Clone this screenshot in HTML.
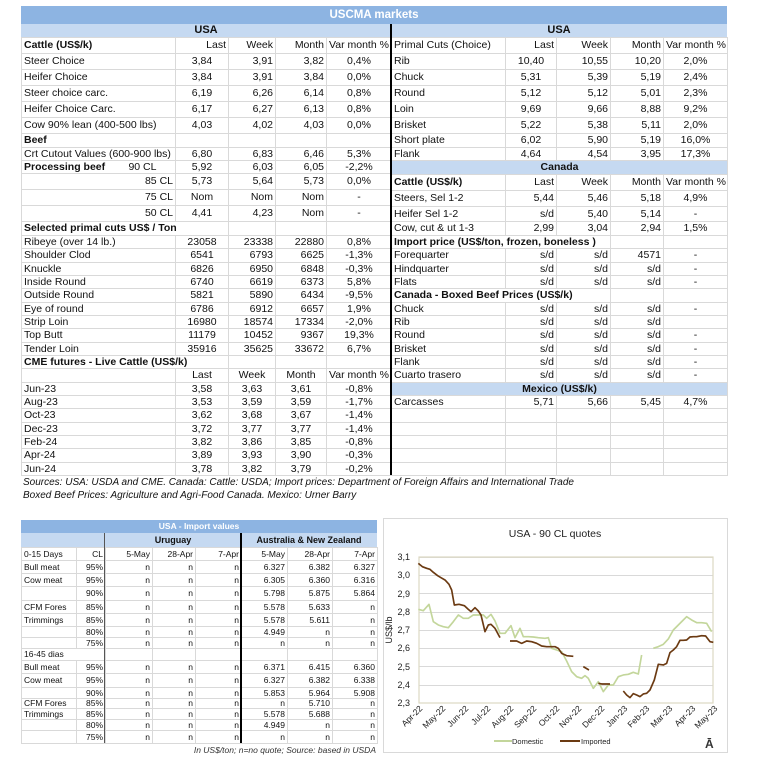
<!DOCTYPE html>
<html><head><meta charset="utf-8">
<style>
body{margin:0;width:768px;height:774px;background:#fff;position:relative;overflow:hidden;font-family:"Liberation Sans",Arial,sans-serif;color:#111}
.a{position:absolute}
table{border-collapse:collapse;table-layout:fixed;font-size:10.5px;position:absolute}
td{padding:0 2px;border:1px solid #d9d9d9;white-space:nowrap;overflow:hidden;line-height:1}
.c{text-align:center}.r{text-align:right}.b{font-weight:bold}
.band{background:#c5d9f1;font-weight:bold;text-align:center}
td.n{border-right:none}
.sm{font-size:8.5px}
.sm td{padding:0 2px}
</style></head><body>
<div class="a" style="left:21px;top:6px;width:706px;height:18px;background:#8db4e2;color:#fff;font-weight:bold;font-size:11.5px;text-align:center;line-height:18px">USCMA markets</div>
<div class="a" style="left:21px;top:24px;width:706px;height:13px;background:#c5d9f1"></div>
<div class="a b" style="left:21px;top:24px;width:370px;font-size:11px;text-align:center;line-height:13px">USA</div>
<div class="a b" style="left:391px;top:24px;width:336px;font-size:11px;text-align:center;line-height:13px">USA</div>

<table style="left:21px;top:37px;width:370px">
<colgroup><col style="width:154px"><col style="width:53px"><col style="width:47px"><col style="width:51px"><col style="width:65px"></colgroup>
<tr style="height:16px"><td class="b">Cattle (US$/k)</td><td class="r">Last</td><td class="r">Week</td><td class="r">Month</td><td>Var month %</td></tr>
<tr style="height:16px"><td>Steer Choice</td><td class="c">3,84</td><td class="r">3,91</td><td class="r">3,82</td><td class="c">0,4%</td></tr>
<tr style="height:16px"><td>Heifer Choice</td><td class="c">3,84</td><td class="r">3,91</td><td class="r">3,84</td><td class="c">0,0%</td></tr>
<tr style="height:16px"><td>Steer choice carc.</td><td class="c">6,19</td><td class="r">6,26</td><td class="r">6,14</td><td class="c">0,8%</td></tr>
<tr style="height:16px"><td>Heifer Choice Carc.</td><td class="c">6,17</td><td class="r">6,27</td><td class="r">6,13</td><td class="c">0,8%</td></tr>
<tr style="height:16px"><td>Cow 90% lean (400-500 lbs)</td><td class="c">4,03</td><td class="r">4,02</td><td class="r">4,03</td><td class="c">0,0%</td></tr>
<tr style="height:14px"><td class="b">Beef</td><td></td><td></td><td></td><td></td></tr>
<tr style="height:13px"><td>Crt Cutout Values (600-900 lbs)</td><td class="c">6,80</td><td class="r">6,83</td><td class="r">6,46</td><td class="c">5,3%</td></tr>
<tr style="height:13px"><td><b>Processing beef</b>&nbsp;&nbsp;&nbsp;&nbsp;&nbsp;&nbsp;&nbsp;&nbsp;90 CL</td><td class="c">5,92</td><td class="r">6,03</td><td class="r">6,05</td><td class="c">-2,2%</td></tr>
<tr style="height:16px"><td class="r">85 CL</td><td class="c">5,73</td><td class="r">5,64</td><td class="r">5,73</td><td class="c">0,0%</td></tr>
<tr style="height:16px"><td class="r">75 CL</td><td class="c">Nom</td><td class="r">Nom</td><td class="r">Nom</td><td class="c">-</td></tr>
<tr style="height:16px"><td class="r">50 CL</td><td class="c">4,41</td><td class="r">4,23</td><td class="r">Nom</td><td class="c">-</td></tr>
<tr style="height:14px"><td class="b" colspan="2">Selected primal cuts US$ / Ton</td><td></td><td></td><td></td></tr>
<tr style="height:13px"><td>Ribeye (over 14 lb.)</td><td class="c">23058</td><td class="r">23338</td><td class="r">22880</td><td class="c">0,8%</td></tr>
<tr style="height:14px"><td>Shoulder Clod</td><td class="c">6541</td><td class="r">6793</td><td class="r">6625</td><td class="c">-1,3%</td></tr>
<tr style="height:13px"><td>Knuckle</td><td class="c">6826</td><td class="r">6950</td><td class="r">6848</td><td class="c">-0,3%</td></tr>
<tr style="height:13px"><td>Inside Round</td><td class="c">6740</td><td class="r">6619</td><td class="r">6373</td><td class="c">5,8%</td></tr>
<tr style="height:14px"><td>Outside Round</td><td class="c">5821</td><td class="r">5890</td><td class="r">6434</td><td class="c">-9,5%</td></tr>
<tr style="height:13px"><td>Eye of round</td><td class="c">6786</td><td class="r">6912</td><td class="r">6657</td><td class="c">1,9%</td></tr>
<tr style="height:13px"><td>Strip Loin</td><td class="c">16980</td><td class="r">18574</td><td class="r">17334</td><td class="c">-2,0%</td></tr>
<tr style="height:14px"><td>Top Butt</td><td class="c">11179</td><td class="r">10452</td><td class="r">9367</td><td class="c">19,3%</td></tr>
<tr style="height:13px"><td>Tender Loin</td><td class="c">35916</td><td class="r">35625</td><td class="r">33672</td><td class="c">6,7%</td></tr>
<tr style="height:13px"><td class="b" colspan="2">CME futures - Live Cattle (US$/k)</td><td></td><td></td><td></td></tr>
<tr style="height:14px"><td></td><td class="c">Last</td><td class="c">Week</td><td class="c">Month</td><td>Var month %</td></tr>
<tr style="height:13px"><td>Jun-23</td><td class="c">3,58</td><td class="c">3,63</td><td class="c">3,61</td><td class="c">-0,8%</td></tr>
<tr style="height:13px"><td>Aug-23</td><td class="c">3,53</td><td class="c">3,59</td><td class="c">3,59</td><td class="c">-1,7%</td></tr>
<tr style="height:14px"><td>Oct-23</td><td class="c">3,62</td><td class="c">3,68</td><td class="c">3,67</td><td class="c">-1,4%</td></tr>
<tr style="height:13px"><td>Dec-23</td><td class="c">3,72</td><td class="c">3,77</td><td class="c">3,77</td><td class="c">-1,4%</td></tr>
<tr style="height:13px"><td>Feb-24</td><td class="c">3,82</td><td class="c">3,86</td><td class="c">3,85</td><td class="c">-0,8%</td></tr>
<tr style="height:14px"><td>Apr-24</td><td class="c">3,89</td><td class="c">3,93</td><td class="c">3,90</td><td class="c">-0,3%</td></tr>
<tr style="height:13px"><td>Jun-24</td><td class="c">3,78</td><td class="c">3,82</td><td class="c">3,79</td><td class="c">-0,2%</td></tr>
</table>

<table style="left:391px;top:37px;width:336px">
<colgroup><col style="width:114px"><col style="width:51px"><col style="width:54px"><col style="width:53px"><col style="width:64px"></colgroup>
<tr style="height:16px"><td>Primal Cuts (Choice)</td><td class="r">Last</td><td class="r">Week</td><td class="r">Month</td><td>Var month %</td></tr>
<tr style="height:16px"><td>Rib</td><td class="c">10,40</td><td class="r">10,55</td><td class="r">10,20</td><td class="c">2,0%</td></tr>
<tr style="height:16px"><td>Chuck</td><td class="c">5,31</td><td class="r">5,39</td><td class="r">5,19</td><td class="c">2,4%</td></tr>
<tr style="height:16px"><td>Round</td><td class="c">5,12</td><td class="r">5,12</td><td class="r">5,01</td><td class="c">2,3%</td></tr>
<tr style="height:16px"><td>Loin</td><td class="c">9,69</td><td class="r">9,66</td><td class="r">8,88</td><td class="c">9,2%</td></tr>
<tr style="height:16px"><td>Brisket</td><td class="c">5,22</td><td class="r">5,38</td><td class="r">5,11</td><td class="c">2,0%</td></tr>
<tr style="height:14px"><td>Short plate</td><td class="c">6,02</td><td class="r">5,90</td><td class="r">5,19</td><td class="c">16,0%</td></tr>
<tr style="height:13px"><td>Flank</td><td class="c">4,64</td><td class="r">4,54</td><td class="r">3,95</td><td class="c">17,3%</td></tr>
<tr style="height:14px"><td class="band" colspan="5">Canada</td></tr>
<tr style="height:16px"><td class="b">Cattle (US$/k)</td><td class="r">Last</td><td class="r">Week</td><td class="r">Month</td><td>Var month %</td></tr>
<tr style="height:16px"><td>Steers, Sel 1-2</td><td class="r">5,44</td><td class="r">5,46</td><td class="r">5,18</td><td class="c">4,9%</td></tr>
<tr style="height:15px"><td>Heifer Sel 1-2</td><td class="r">s/d</td><td class="r">5,40</td><td class="r">5,14</td><td class="c">-</td></tr>
<tr style="height:14px"><td>Cow, cut &amp; ut 1-3</td><td class="r">2,99</td><td class="r">3,04</td><td class="r">2,94</td><td class="c">1,5%</td></tr>
<tr style="height:13px"><td class="b n" colspan="3">Import price (US$/ton, frozen, boneless )</td><td></td><td></td></tr>
<tr style="height:14px"><td>Forequarter</td><td class="r">s/d</td><td class="r">s/d</td><td class="r">4571</td><td class="c">-</td></tr>
<tr style="height:13px"><td>Hindquarter</td><td class="r">s/d</td><td class="r">s/d</td><td class="r">s/d</td><td class="c">-</td></tr>
<tr style="height:13px"><td>Flats</td><td class="r">s/d</td><td class="r">s/d</td><td class="r">s/d</td><td class="c">-</td></tr>
<tr style="height:14px"><td class="b" colspan="3">Canada - Boxed Beef Prices (US$/k)</td><td></td><td></td></tr>
<tr style="height:13px"><td>Chuck</td><td class="r">s/d</td><td class="r">s/d</td><td class="r">s/d</td><td class="c">-</td></tr>
<tr style="height:13px"><td>Rib</td><td class="r">s/d</td><td class="r">s/d</td><td class="r">s/d</td><td class="c"></td></tr>
<tr style="height:14px"><td>Round</td><td class="r">s/d</td><td class="r">s/d</td><td class="r">s/d</td><td class="c">-</td></tr>
<tr style="height:13px"><td>Brisket</td><td class="r">s/d</td><td class="r">s/d</td><td class="r">s/d</td><td class="c">-</td></tr>
<tr style="height:13px"><td>Flank</td><td class="r">s/d</td><td class="r">s/d</td><td class="r">s/d</td><td class="c">-</td></tr>
<tr style="height:14px"><td>Cuarto trasero</td><td class="r">s/d</td><td class="r">s/d</td><td class="r">s/d</td><td class="c">-</td></tr>
<tr style="height:13px"><td class="band" colspan="5">Mexico (US$/k)</td></tr>
<tr style="height:13px"><td>Carcasses</td><td class="r">5,71</td><td class="r">5,66</td><td class="r">5,45</td><td class="c">4,7%</td></tr>
<tr style="height:14px"><td></td><td></td><td></td><td></td><td></td></tr>
<tr style="height:13px"><td></td><td></td><td></td><td></td><td></td></tr>
<tr style="height:13px"><td></td><td></td><td></td><td></td><td></td></tr>
<tr style="height:14px"><td></td><td></td><td></td><td></td><td></td></tr>
<tr style="height:13px"><td></td><td></td><td></td><td></td><td></td></tr>
</table>
<div class="a" style="left:390px;top:24px;width:1.5px;height:451px;background:#000"></div>
<div class="a" style="left:23px;top:476px;font-size:10px;font-style:italic;line-height:13px">Sources: USA: USDA and CME. Canada: Cattle: USDA; Import prices: Department of Foreign Affairs and International Trade<br>Boxed Beef Prices: Agriculture and Agri-Food Canada. Mexico: Urner Barry</div>

<!-- bottom table -->
<div class="a" style="left:21px;top:520px;width:356px;height:13px;background:#8db4e2;color:#fff;font-weight:bold;font-size:8.5px;text-align:center;line-height:13px">USA - Import values</div>
<div class="a" style="left:21px;top:533px;width:356px;height:14px;background:#c5d9f1"></div>
<div class="a b" style="left:105px;top:533px;width:136px;font-size:9px;text-align:center;line-height:14px">Uruguay</div>
<div class="a b" style="left:241px;top:533px;width:136px;font-size:9px;text-align:center;line-height:14px">Australia &amp; New Zealand</div>
<table class="sm" style="left:21px;top:547px;width:356px">
<colgroup><col style="width:55px"><col style="width:29px"><col style="width:47px"><col style="width:43px"><col style="width:46px"><col style="width:46px"><col style="width:45px"><col style="width:45px"></colgroup>
<tr style="height:13px"><td>0-15 Days</td><td class="r">CL</td><td class="r">5-May</td><td class="r">28-Apr</td><td class="r">7-Apr</td><td class="r">5-May</td><td class="r">28-Apr</td><td class="r">7-Apr</td></tr>
<tr style="height:13px"><td>Bull meat</td><td class="r">95%</td><td class="r">n</td><td class="r">n</td><td class="r">n</td><td class="r">6.327</td><td class="r">6.382</td><td class="r">6.327</td></tr>
<tr style="height:13px"><td>Cow meat</td><td class="r">95%</td><td class="r">n</td><td class="r">n</td><td class="r">n</td><td class="r">6.305</td><td class="r">6.360</td><td class="r">6.316</td></tr>
<tr style="height:14px"><td></td><td class="r">90%</td><td class="r">n</td><td class="r">n</td><td class="r">n</td><td class="r">5.798</td><td class="r">5.875</td><td class="r">5.864</td></tr>
<tr style="height:13px"><td>CFM Fores</td><td class="r">85%</td><td class="r">n</td><td class="r">n</td><td class="r">n</td><td class="r">5.578</td><td class="r">5.633</td><td class="r">n</td></tr>
<tr style="height:13px"><td>Trimmings</td><td class="r">85%</td><td class="r">n</td><td class="r">n</td><td class="r">n</td><td class="r">5.578</td><td class="r">5.611</td><td class="r">n</td></tr>
<tr style="height:11px"><td></td><td class="r">80%</td><td class="r">n</td><td class="r">n</td><td class="r">n</td><td class="r">4.949</td><td class="r">n</td><td class="r">n</td></tr>
<tr style="height:11px"><td></td><td class="r">75%</td><td class="r">n</td><td class="r">n</td><td class="r">n</td><td class="r">n</td><td class="r">n</td><td class="r">n</td></tr>
<tr style="height:12px"><td colspan="2">16-45 dias</td><td></td><td></td><td></td><td></td><td></td><td></td></tr>
<tr style="height:13px"><td>Bull meat</td><td class="r">95%</td><td class="r">n</td><td class="r">n</td><td class="r">n</td><td class="r">6.371</td><td class="r">6.415</td><td class="r">6.360</td></tr>
<tr style="height:14px"><td>Cow meat</td><td class="r">95%</td><td class="r">n</td><td class="r">n</td><td class="r">n</td><td class="r">6.327</td><td class="r">6.382</td><td class="r">6.338</td></tr>
<tr style="height:11px"><td></td><td class="r">90%</td><td class="r">n</td><td class="r">n</td><td class="r">n</td><td class="r">5.853</td><td class="r">5.964</td><td class="r">5.908</td></tr>
<tr style="height:10px"><td>CFM Fores</td><td class="r">85%</td><td class="r">n</td><td class="r">n</td><td class="r">n</td><td class="r">n</td><td class="r">5.710</td><td class="r">n</td></tr>
<tr style="height:11px"><td>Trimmings</td><td class="r">85%</td><td class="r">n</td><td class="r">n</td><td class="r">n</td><td class="r">5.578</td><td class="r">5.688</td><td class="r">n</td></tr>
<tr style="height:11px"><td></td><td class="r">80%</td><td class="r">n</td><td class="r">n</td><td class="r">n</td><td class="r">4.949</td><td class="r">n</td><td class="r">n</td></tr>
<tr style="height:13px"><td></td><td class="r">75%</td><td class="r">n</td><td class="r">n</td><td class="r">n</td><td class="r">n</td><td class="r">n</td><td class="r">n</td></tr>
</table>
<div class="a" style="left:104px;top:533px;width:1px;height:210px;background:#555"></div>
<div class="a" style="left:240px;top:533px;width:1.5px;height:210px;background:#000"></div>
<div class="a" style="left:100px;top:745px;width:276px;font-size:8.5px;font-style:italic;text-align:right;color:#333">In US$/ton; n=no quote; Source: based in USDA</div>

<!-- chart -->
<svg class="a" style="left:0;top:0" width="768" height="774">
<rect x="383.5" y="518.5" width="344" height="234" fill="#fff" stroke="#d9d9d9"/>
<text x="555" y="537" font-size="10.5" text-anchor="middle" font-family="Liberation Sans,sans-serif" fill="#222">USA - 90 CL quotes</text>
<g stroke="#d9d9d9" stroke-width="1">
<line x1="419" y1="557.5" x2="713" y2="557.5"/><line x1="419" y1="575.5" x2="713" y2="575.5"/><line x1="419" y1="593.5" x2="713" y2="593.5"/><line x1="419" y1="612.5" x2="713" y2="612.5"/><line x1="419" y1="630.5" x2="713" y2="630.5"/><line x1="419" y1="648.5" x2="713" y2="648.5"/><line x1="419" y1="666.5" x2="713" y2="666.5"/><line x1="419" y1="685.5" x2="713" y2="685.5"/>
</g>
<rect x="419" y="557" width="294" height="146" fill="none" stroke="#ddd9c3" stroke-width="1.2"/>
<g font-size="9" font-family="Liberation Sans,sans-serif" fill="#222" text-anchor="end">
<text x="410" y="560">3,1</text><text x="410" y="578">3,0</text><text x="410" y="597">2,9</text><text x="410" y="615">2,8</text><text x="410" y="633">2,7</text><text x="410" y="651">2,6</text><text x="410" y="670">2,5</text><text x="410" y="688">2,4</text><text x="410" y="706">2,3</text>
</g>
<text transform="translate(392,630) rotate(-90)" font-size="9" text-anchor="middle" font-family="Liberation Sans,sans-serif" fill="#222">US$/lb</text>
<g font-size="8.5" font-family="Liberation Sans,sans-serif" fill="#222" text-anchor="end">
<text transform="translate(423,709) rotate(-45)">Apr-22</text><text transform="translate(446,709) rotate(-45)">May-22</text><text transform="translate(469,709) rotate(-45)">Jun-22</text><text transform="translate(491,709) rotate(-45)">Jul-22</text><text transform="translate(514,709) rotate(-45)">Aug-22</text><text transform="translate(537,709) rotate(-45)">Sep-22</text><text transform="translate(560,709) rotate(-45)">Oct-22</text><text transform="translate(582,709) rotate(-45)">Nov-22</text><text transform="translate(605,709) rotate(-45)">Dec-22</text><text transform="translate(628,709) rotate(-45)">Jan-23</text><text transform="translate(650,709) rotate(-45)">Feb-23</text><text transform="translate(673,709) rotate(-45)">Mar-23</text><text transform="translate(696,709) rotate(-45)">Apr-23</text><text transform="translate(718,709) rotate(-45)">May-23</text>
</g>
<g transform="translate(385,515) scale(0.3333)" fill="none" stroke-width="5" stroke-linejoin="round">
<polyline stroke="#c3d69b" points="100,283 115,287 132,268 145,320 160,330 175,335 190,338 205,320 220,300 235,310 250,310 265,300 280,300 295,300 305,310 318,298 330,318 345,355 360,355 378,332 390,368 405,340 415,365 430,365 445,366 460,368 480,370 490,368 500,400 515,405 530,410 545,438 560,470 575,485 590,490 600,482 610,490 625,520 640,500 655,530 670,510 685,510 700,485 715,480 730,478 745,472 760,477 770,420"/>
<polyline stroke="#c3d69b" points="805,400 820,395 835,388 850,372 865,345 880,330 895,315 905,305 920,315 935,323 950,323 965,325 980,350"/>
<polyline stroke="#6b3a12" points="100,145 112,155 125,160 135,163 145,172 158,182 168,188 180,195 192,208 200,225 208,270 222,268 238,272 250,283 258,290 270,278 280,288 288,300 300,350 310,330 318,328 330,340 345,368"/>
<polyline stroke="#6b3a12" points="375,378 385,378 395,378 410,385 425,378 440,380 455,385 470,393 485,395 500,395 510,395 520,400 530,415 545,422 565,424"/>
<polyline stroke="#6b3a12" points="595,455 612,465"/>
<polyline stroke="#6b3a12" points="640,505 650,507 665,507 675,507"/>
<polyline stroke="#6b3a12" points="715,528 725,540 735,548 745,536 755,540 765,545 775,537 785,535 795,525 808,495 820,448 835,450 845,445 855,413 865,405 875,395 885,376 895,376 905,375 915,366 925,365 935,365 950,362 962,363 975,380 985,382"/>
</g>
<line x1="494" y1="741" x2="512" y2="741" stroke="#c3d69b" stroke-width="2"/>
<text x="512" y="744" font-size="7.5" font-family="Liberation Sans,sans-serif" fill="#222">Domestic</text>
<line x1="560" y1="741" x2="580" y2="741" stroke="#6b3a12" stroke-width="2"/>
<text x="581" y="744" font-size="7.5" font-family="Liberation Sans,sans-serif" fill="#222">Imported</text>
<text x="705" y="748" font-size="12" font-weight="bold" font-family="Liberation Sans,sans-serif" fill="#333">Ā</text>
</svg>
</body></html>
